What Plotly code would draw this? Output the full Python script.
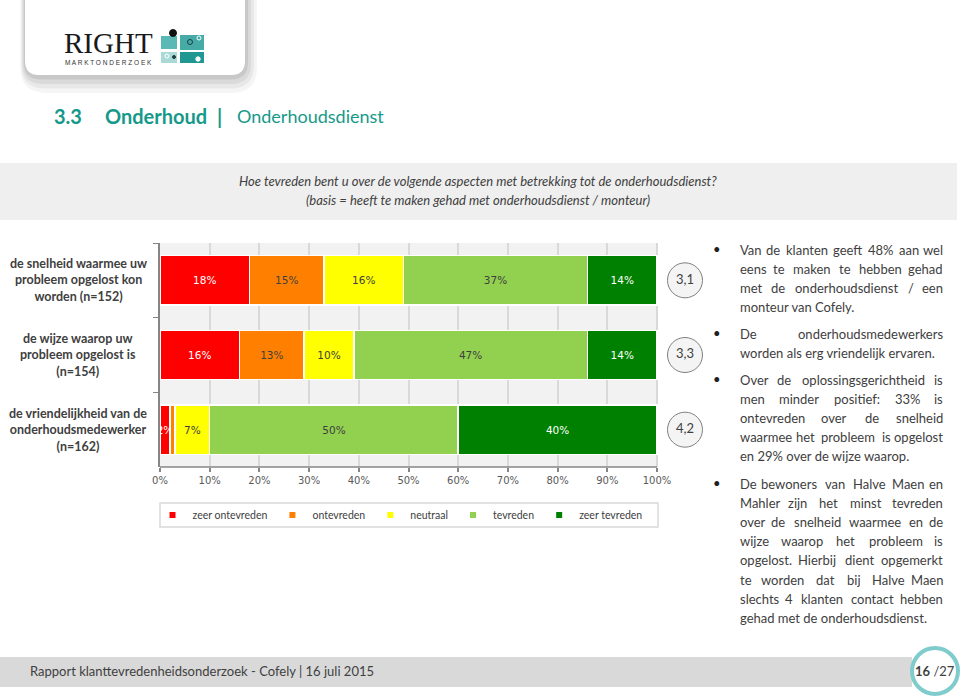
import plotly.graph_objects as go

# ---------------- data ----------------
categories = [
    "de snelheid waarmee uw probleem opgelost kon worden (n=152)",
    "de wijze waarop uw probleem opgelost is (n=154)",
    "de vriendelijkheid van de onderhoudsmedewerker (n=162)",
]
category_labels = [
    "de snelheid waarmee uw<br>probleem opgelost kon<br>worden (n=152)",
    "de wijze waarop uw<br>probleem opgelost is<br>(n=154)",
    "de vriendelijkheid van de<br>onderhoudsmedewerker<br>(n=162)",
]
series_names = ["zeer ontevreden", "ontevreden", "neutraal", "tevreden", "zeer tevreden"]
zeer_ontevreden = [18, 16, 2]
ontevreden = [15, 13, 1]
neutraal = [16, 10, 7]
tevreden = [37, 47, 50]
zeer_tevreden = [14, 14, 40]
averages = [3.1, 3.3, 4.2]
x_tick_values = [0, 10, 20, 30, 40, 50, 60, 70, 80, 90, 100]
x_tick_labels = ["0%", "10%", "20%", "30%", "40%", "50%", "60%", "70%", "80%", "90%", "100%"]

series_values = [zeer_ontevreden, ontevreden, neutraal, tevreden, zeer_tevreden]
series_colors = ["#ff0000", "#ff8000", "#ffff00", "#92d050", "#008000"]
label_colors = ["#ffffff", "#404040", "#404040", "#404040", "#ffffff"]

paragraphs = [
    ["Van de klanten geeft 48% aan wel", "eens te maken te hebben gehad",
     "met de onderhoudsdienst / een", "monteur van Cofely."],
    ["De onderhoudsmedewerkers", "worden als erg vriendelijk ervaren."],
    ["Over de oplossingsgerichtheid is", "men minder positief: 33% is",
     "ontevreden over de snelheid", "waarmee het probleem is opgelost",
     "en 29% over de wijze waarop."],
    ["De bewoners van Halve Maen en", "Mahler zijn het minst tevreden",
     "over de snelheid waarmee en de", "wijze waarop het probleem is",
     "opgelost. Hierbij dient opgemerkt", "te worden dat bij Halve Maen",
     "slechts 4 klanten contact hebben", "gehad met de onderhoudsdienst."],
]
paragraph_tops = [250, 334, 380, 484]

# ---------------- geometry helpers ----------------
W, H = 960, 700
L, R, T, B = 160, 705, 243, 467      # plot area (pixels)
X100 = 657                           # pixel position of 100 %
X_MAX = (R - L) / (X100 - L) * 100   # axis range so that 100 % lands on X100
AVG_X = (685 - L) / (X100 - L) * 100


def fx(px):
    return (px - L) / (R - L)


def fy(py):
    return (B - py) / (B - T)


def roundrect(x0, y0, x1, y1, r):
    pts = [
        ("M", [(x0 + r, y0)]), ("L", [(x1 - r, y0)]), ("Q", [(x1, y0), (x1, y0 + r)]),
        ("L", [(x1, y1 - r)]), ("Q", [(x1, y1), (x1 - r, y1)]), ("L", [(x0 + r, y1)]),
        ("Q", [(x0, y1), (x0, y1 - r)]), ("L", [(x0, y0 + r)]), ("Q", [(x0, y0), (x0 + r, y0)]),
    ]
    s = ""
    for cmd, ps in pts:
        s += cmd + " " + " ".join(f"{fx(a):.5f},{fy(b):.5f}" for a, b in ps) + " "
    return s + "Z"


FONT = "Lato, 'Open Sans', sans-serif"
TXT = "#404040"

fig = go.Figure()

for name, vals, col, lcol in zip(series_names, series_values, series_colors, label_colors):
    fig.add_trace(go.Bar(
        x=vals, y=categories, orientation="h", name=name,
        marker=dict(color=col, line=dict(color="#ffffff", width=1.5)),
        text=[f"{v}%" if v >= 2 else "" for v in vals],
        textposition="inside", insidetextanchor="middle", textangle=0,
        constraintext="none",
        textfont=dict(family="DejaVu Sans, Verdana, sans-serif", size=10.5, color=lcol),
        showlegend=False, hoverinfo="skip",
    ))

# legend entries
for name, col in zip(series_names, series_colors):
    fig.add_trace(go.Scatter(
        x=[None], y=[None], mode="markers", name=name,
        marker=dict(symbol="square", size=6, color=col), showlegend=True,
    ))

# average circles
fig.add_trace(go.Scatter(
    x=[AVG_X] * len(categories), y=categories, mode="markers+text",
    text=[f"{a:.1f}".replace(".", ",") for a in averages],
    textposition="middle center",
    textfont=dict(family=FONT, size=13, color=TXT),
    marker=dict(size=35, color="#f4f4f4", line=dict(color="#7f7f7f", width=1)),
    cliponaxis=False, showlegend=False, hoverinfo="skip",
))

shapes = []
annotations = []

# ---- plot background (0-100 %) and x axis line ----
shapes.append(dict(type="rect", xref="x", yref="paper", x0=0, x1=100, y0=0, y1=1,
                   fillcolor="#f2f2f2", line=dict(width=0), layer="below"))
shapes.append(dict(type="line", xref="x", yref="paper", x0=0, x1=100, y0=0, y1=0,
                   line=dict(color="#868686", width=1.5)))

# ---- logo card ----
for grow, op in [(12, 0.04), (9, 0.05), (6, 0.06), (3, 0.08)]:
    shapes.append(dict(type="path", xref="paper", yref="paper",
                       path=roundrect(25 - grow * 0.4, -30, 245 + grow, 75 + grow * 1.5, 14 + grow),
                       fillcolor=f"rgba(0,0,0,{op})", line=dict(width=0)))
shapes.append(dict(type="path", xref="paper", yref="paper",
                   path=roundrect(25, -30, 245, 75, 14),
                   fillcolor="#ffffff", line=dict(width=0)))
# icon tiles
for (x0, y0, x1, y1, c) in [(161, 36, 177, 49, "#5bb9b5"), (180, 35, 204, 50, "#46aaa6"),
                            (161, 52, 177, 63, "#a9dad8"), (180, 52, 204, 63, "#1f9893")]:
    shapes.append(dict(type="rect", xref="paper", yref="paper", x0=fx(x0), x1=fx(x1),
                       y0=fy(y1), y1=fy(y0), fillcolor=c, line=dict(width=0)))
for (cx, cy, r, fc, lc) in [(173, 33, 3.5, "#111111", "#111111"), (190, 42, 2.5, "rgba(0,0,0,0)", "#1b3f40"),
                            (199, 38, 2, "rgba(0,0,0,0)", "#ffffff"), (174, 57, 1.5, "#1b3f40", "#1b3f40"),
                            (198, 59, 2.2, "#ffffff", "#ffffff"), (167, 56, 2, "rgba(0,0,0,0)", "#ffffff")]:
    shapes.append(dict(type="circle", xref="paper", yref="paper", x0=fx(cx - r), x1=fx(cx + r),
                       y0=fy(cy + r), y1=fy(cy - r), fillcolor=fc, line=dict(color=lc, width=1)))
annotations.append(dict(text="RIGHT", x=fx(108), y=fy(43), xref="paper", yref="paper",
                        showarrow=False, xanchor="center", yanchor="middle",
                        font=dict(family="Liberation Serif, DejaVu Serif, serif", size=29, color="#1a1a1a")))
annotations.append(dict(text="M A R K T O N D E R Z O E K", x=fx(108), y=fy(62), xref="paper", yref="paper",
                        showarrow=False, xanchor="center", yanchor="middle",
                        font=dict(family="Liberation Sans, sans-serif", size=6.5, color="#333333")))

# ---- title ----
TEAL = "#16998a"
for txt, x, anchor, bold, size in [("3.3", 52, "left", True, 20), ("Onderhoud", 103, "left", True, 20),
                                   ("|", 219, "center", True, 20), ("Onderhoudsdienst", 235, "left", False, 18)]:
    annotations.append(dict(text=f"<b>{txt}</b>" if bold else txt, x=fx(x), y=fy(116),
                            xref="paper", yref="paper", showarrow=False, xanchor=anchor, yanchor="middle",
                            font=dict(family=FONT, size=size, color=TEAL)))

# ---- question banner ----
shapes.append(dict(type="rect", xref="paper", yref="paper", x0=fx(0), x1=fx(957),
                   y0=fy(220), y1=fy(163), fillcolor="#efefef", line=dict(width=0), layer="below"))
for txt, yy in [("<i>Hoe tevreden bent u over de volgende aspecten met betrekking tot de onderhoudsdienst?</i>", 181),
                ("<i>(basis = heeft te maken gehad met onderhoudsdienst / monteur)</i>", 200)]:
    annotations.append(dict(text=txt, x=fx(478), y=fy(yy), xref="paper", yref="paper", showarrow=False,
                            xanchor="center", yanchor="middle", font=dict(family=FONT, size=13, color=TXT)))

# ---- category labels ----
for cat, lab in zip(categories, category_labels):
    annotations.append(dict(text=f"<b>{lab}</b>", x=fx(78), y=cat, xref="paper", yref="y",
                            showarrow=False, xanchor="center", yanchor="middle", align="center",
                            font=dict(family=FONT, size=12.5, color=TXT)))

# ---- legend box ----
shapes.append(dict(type="rect", xref="paper", yref="paper", x0=fx(160), x1=fx(658),
                   y0=fy(527), y1=fy(503), fillcolor="rgba(0,0,0,0)", line=dict(color="#d9d9d9", width=1.5)))

# ---- right text (justified) ----
CW = {'a': .50, 'b': .56, 'c': .46, 'd': .56, 'e': .52, 'f': .32, 'g': .50, 'h': .56, 'i': .24, 'j': .24,
      'k': .50, 'l': .24, 'm': .84, 'n': .56, 'o': .56, 'p': .56, 'q': .56, 'r': .36, 's': .42, 't': .34,
      'u': .56, 'v': .50, 'w': .76, 'x': .48, 'y': .50, 'z': .45, '.': .24, ',': .22, ':': .24, '/': .38,
      '%': .80, ' ': .19}
RS = 13
LX, RX = 738, 945


def est(word):
    w = 0
    for ch in word:
        if ch in CW:
            w += CW[ch]
        elif ch.isdigit():
            w += .58
        elif ch.isupper():
            w += .66
        else:
            w += .5
    return w * RS


for top, para in zip(paragraph_tops, paragraphs):
    annotations.append(dict(text="•", x=fx(717), y=fy(top - 1), xref="paper", yref="paper", showarrow=False,
                            xanchor="center", yanchor="middle", font=dict(family=FONT, size=13, color="#202020")))
    for i, line in enumerate(para):
        yy = top + i * 19.1
        words = line.split(" ")
        last = i == len(para) - 1
        if last or len(words) < 2:
            annotations.append(dict(text=line, x=fx(LX), y=fy(yy), xref="paper", yref="paper", showarrow=False,
                                    xanchor="left", yanchor="middle", font=dict(family=FONT, size=RS, color=TXT)))
            continue
        ws = [est(w) for w in words]
        gap = (RX - LX - sum(ws)) / (len(words) - 1)
        xpos = LX
        for j, (w, wd) in enumerate(zip(words, ws)):
            if j == 0:
                ax, anchor = xpos, "left"
            elif j == len(words) - 1:
                ax, anchor = RX, "right"
            else:
                ax, anchor = xpos + wd / 2, "center"
            annotations.append(dict(text=w, x=fx(ax), y=fy(yy), xref="paper", yref="paper", showarrow=False,
                                    xanchor=anchor, yanchor="middle", font=dict(family=FONT, size=RS, color=TXT)))
            xpos += wd + gap

# ---- footer ----
shapes.append(dict(type="rect", xref="paper", yref="paper", x0=fx(0), x1=fx(912),
                   y0=fy(687), y1=fy(657), fillcolor="#d9d9d9", line=dict(width=0)))
shapes.append(dict(type="circle", xref="paper", yref="paper", x0=fx(912), x1=fx(958),
                   y0=fy(694), y1=fy(648), fillcolor="#ffffff", line=dict(color="#80cccc", width=4)))
annotations.append(dict(text="Rapport klanttevredenheidsonderzoek - Cofely | 16 juli 2015", x=fx(28), y=fy(671),
                        xref="paper", yref="paper", showarrow=False, xanchor="left", yanchor="middle",
                        font=dict(family=FONT, size=13, color=TXT)))
annotations.append(dict(text="<b>16</b> /27", x=fx(935), y=fy(671), xref="paper", yref="paper", showarrow=False,
                        xanchor="center", yanchor="middle", font=dict(family=FONT, size=13, color=TXT)))

fig.update_layout(
    width=W, height=H, autosize=False,
    margin=dict(l=L, r=W - R, t=T, b=H - B, pad=0),
    paper_bgcolor="#ffffff", plot_bgcolor="#ffffff",
    barmode="stack", bargap=0.34,
    showlegend=True,
    legend=dict(orientation="h", x=fx(400), xanchor="center", y=fy(515), yanchor="middle",
                font=dict(family=FONT, size=10.5, color=TXT), bgcolor="rgba(0,0,0,0)",
                itemwidth=30, tracegroupgap=0, traceorder="normal"),
    shapes=shapes, annotations=annotations,
    hovermode=False,
)
fig.update_xaxes(range=[0, X_MAX], tickvals=x_tick_values, ticktext=x_tick_labels,
                 showgrid=True, gridcolor="#d9d9d9", gridwidth=1.5, showline=False,
                 ticks="outside", ticklen=4, tickcolor="#868686", tickwidth=1.5,
                 tickfont=dict(family="DejaVu Sans, Verdana, sans-serif", size=10, color="#595959"),
                 zeroline=False, fixedrange=True)
fig.update_yaxes(type="category", categoryorder="array", categoryarray=categories, autorange="reversed",
                 showline=True, linecolor="#868686", linewidth=1.5, ticks="outside", tickson="boundaries",
                 ticklen=5, tickcolor="#868686", showticklabels=False, showgrid=False, zeroline=False,
                 fixedrange=True)

fig.write_html("out.html")
